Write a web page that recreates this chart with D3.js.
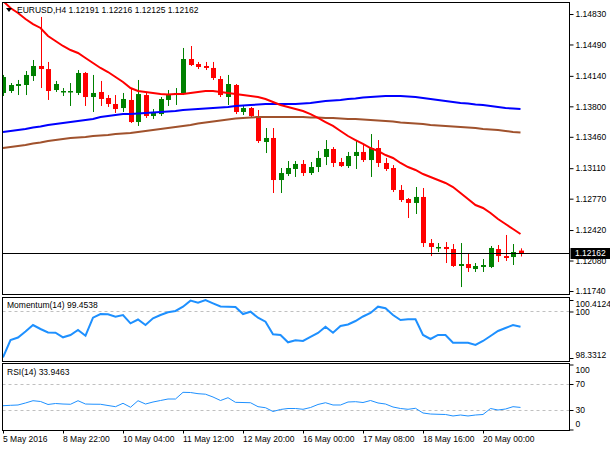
<!DOCTYPE html>
<html>
<head>
<meta charset="utf-8">
<script src="https://cdn.jsdelivr.net/npm/d3@7"></script>
<style>
  body { margin: 0; background: #fff; }
  svg text { font-family: 'Liberation Sans', Arial, sans-serif; font-size: 8.5px; fill: #000; }
</style>
</head>
<body>
<div id="chart"></div>
<script>
const symbol = 'EURUSD,H4'

// H4 bars
const opens = [
  1.13949, 1.13971, 1.14027, 1.14038, 1.14138, 1.14250, 1.14216, 1.13982, 1.13960, 1.13960,
  1.13949, 1.14172, 1.13904, 1.13960, 1.13893, 1.13826, 1.13781, 1.13871, 1.13625, 1.13926,
  1.13692, 1.13714, 1.13871, 1.13926, 1.13937, 1.14328, 1.14272, 1.14250, 1.14228, 1.14105,
  1.13904, 1.14038, 1.13737, 1.13781, 1.13692, 1.13402, 1.13447, 1.12978, 1.13045, 1.13101,
  1.13157, 1.13056, 1.13123, 1.13235, 1.13324, 1.13179, 1.13134, 1.13246, 1.13291, 1.13201,
  1.13335, 1.13168, 1.13112, 1.12867, 1.12766, 1.12722, 1.12789, 1.12275, 1.12220, 1.12231,
  1.12208, 1.12019, 1.12041, 1.11985, 1.12008, 1.12008, 1.12208, 1.12130, 1.12119, 1.12191,
]
const highs = [
  1.14150, 1.14060, 1.14094, 1.14194, 1.14317, 1.14797, 1.14295, 1.14083, 1.14004, 1.14060,
  1.14205, 1.14183, 1.14150, 1.14083, 1.13926, 1.13926, 1.13949, 1.14004, 1.14094, 1.13960,
  1.13770, 1.13904, 1.13982, 1.14004, 1.14451, 1.14473, 1.14295, 1.14295, 1.14295, 1.14138,
  1.14150, 1.14049, 1.13804, 1.13793, 1.13759, 1.13558, 1.13558, 1.13112, 1.13190, 1.13190,
  1.13201, 1.13179, 1.13302, 1.13424, 1.13346, 1.13224, 1.13291, 1.13413, 1.13380, 1.13491,
  1.13424, 1.13224, 1.13145, 1.12922, 1.12777, 1.12900, 1.12889, 1.12320, 1.12275, 1.12286,
  1.12264, 1.12275, 1.12164, 1.12052, 1.12097, 1.12242, 1.12253, 1.12365, 1.12264, 1.12216,
]
const lows = [
  1.13915, 1.13949, 1.13926, 1.13926, 1.14083, 1.14004, 1.13871, 1.13960, 1.13915, 1.13804,
  1.13926, 1.13804, 1.13737, 1.13804, 1.13793, 1.13726, 1.13737, 1.13614, 1.13581, 1.13670,
  1.13659, 1.13692, 1.13804, 1.13815, 1.13926, 1.14250, 1.14216, 1.14205, 1.14094, 1.13904,
  1.13815, 1.13714, 1.13703, 1.13681, 1.13391, 1.13279, 1.12833, 1.12833, 1.13023, 1.13012,
  1.13023, 1.13034, 1.13067, 1.13145, 1.13123, 1.13123, 1.13112, 1.13101, 1.13179, 1.13012,
  1.13123, 1.13079, 1.12844, 1.12733, 1.12554, 1.12599, 1.12231, 1.12130, 1.12175, 1.12052,
  1.12008, 1.11784, 1.11952, 1.11952, 1.11952, 1.11996, 1.12063, 1.12075, 1.12030, 1.12125,
]
const closes = [
  1.14127, 1.14038, 1.14049, 1.14150, 1.14250, 1.14216, 1.13971, 1.14049, 1.13971, 1.13971,
  1.14172, 1.13904, 1.13949, 1.13882, 1.13826, 1.13770, 1.13882, 1.13625, 1.13937, 1.13692,
  1.13737, 1.13882, 1.13926, 1.13949, 1.14328, 1.14261, 1.14239, 1.14228, 1.14116, 1.13926,
  1.14049, 1.13737, 1.13781, 1.13692, 1.13413, 1.13447, 1.12978, 1.13056, 1.13112, 1.13157,
  1.13056, 1.13123, 1.13224, 1.13324, 1.13168, 1.13134, 1.13246, 1.13291, 1.13201, 1.13335,
  1.13168, 1.13101, 1.12867, 1.12755, 1.12722, 1.12789, 1.12275, 1.12231, 1.12231, 1.12208,
  1.12019, 1.12041, 1.11996, 1.12019, 1.12030, 1.12220, 1.12130, 1.12108, 1.12175, 1.12162,
]

// moving averages (red fast, blue, brown slow)
const maFast = [
  1.14975, 1.14897, 1.14841, 1.14774, 1.14718, 1.14674, 1.14585, 1.14529, 1.14473, 1.14428,
  1.14395, 1.14339, 1.14283, 1.14228, 1.14183, 1.14127, 1.14071, 1.14004, 1.13971, 1.13960,
  1.13949, 1.13937, 1.13932, 1.13937, 1.13937, 1.13949, 1.13960, 1.13971, 1.13971, 1.13960,
  1.13949, 1.13937, 1.13926, 1.13915, 1.13904, 1.13882, 1.13848, 1.13815, 1.13793, 1.13770,
  1.13748, 1.13714, 1.13670, 1.13625, 1.13581, 1.13525, 1.13469, 1.13424, 1.13380, 1.13335,
  1.13302, 1.13257, 1.13224, 1.13168, 1.13123, 1.13090, 1.13045, 1.13012, 1.12978, 1.12945,
  1.12900, 1.12833, 1.12766, 1.12699, 1.12666, 1.12610, 1.12543, 1.12487, 1.12432, 1.12376,
]
const maMid = [
  1.13514, 1.13525, 1.13536, 1.13547, 1.13564, 1.13575, 1.13592, 1.13603, 1.13614, 1.13625,
  1.13636, 1.13648, 1.13659, 1.13681, 1.13692, 1.13703, 1.13714, 1.13714, 1.13720, 1.13726,
  1.13731, 1.13737, 1.13742, 1.13748, 1.13759, 1.13765, 1.13770, 1.13776, 1.13781, 1.13787,
  1.13793, 1.13804, 1.13809, 1.13815, 1.13820, 1.13826, 1.13826, 1.13826, 1.13826, 1.13826,
  1.13832, 1.13837, 1.13848, 1.13859, 1.13865, 1.13871, 1.13882, 1.13887, 1.13898, 1.13904,
  1.13910, 1.13915, 1.13915, 1.13915, 1.13910, 1.13904, 1.13893, 1.13882, 1.13871, 1.13859,
  1.13848, 1.13837, 1.13832, 1.13820, 1.13815, 1.13804, 1.13793, 1.13781, 1.13776, 1.13770,
]
const maSlow = [
  1.13335, 1.13346, 1.13357, 1.13369, 1.13385, 1.13397, 1.13413, 1.13424, 1.13436, 1.13447,
  1.13452, 1.13458, 1.13469, 1.13475, 1.13480, 1.13491, 1.13497, 1.13502, 1.13514, 1.13525,
  1.13536, 1.13547, 1.13558, 1.13569, 1.13581, 1.13592, 1.13608, 1.13620, 1.13631, 1.13642,
  1.13653, 1.13664, 1.13670, 1.13675, 1.13681, 1.13681, 1.13681, 1.13681, 1.13681, 1.13681,
  1.13681, 1.13675, 1.13675, 1.13670, 1.13670, 1.13664, 1.13659, 1.13659, 1.13653, 1.13648,
  1.13642, 1.13637, 1.13631, 1.13620, 1.13614, 1.13608, 1.13603, 1.13592, 1.13586, 1.13581,
  1.13575, 1.13569, 1.13564, 1.13558, 1.13547, 1.13541, 1.13536, 1.13525, 1.13514, 1.13508,
]

const momentum = [
  98.350, 98.977, 99.067, 99.282, 99.515, 99.372, 99.246, 99.239, 99.074, 99.157,
  99.336, 99.131, 99.777, 99.910, 99.899, 99.813, 99.874, 99.576, 99.713, 99.515,
  99.756, 99.874, 99.971, 100.018, 100.172, 100.390, 100.316, 100.410, 100.294, 100.179,
  100.172, 100.161, 99.910, 99.993, 99.777, 99.634, 99.182, 99.157, 98.895, 98.966,
  98.941, 99.085, 99.228, 99.454, 99.239, 99.480, 99.533, 99.659, 99.820, 99.946,
  100.172, 100.115, 99.874, 99.695, 99.720, 99.720, 99.157, 99.013, 99.157, 99.157,
  98.880, 98.880, 98.880, 98.798, 98.941, 99.121, 99.300, 99.408, 99.515, 99.4538,
]
const rsi = [
  36.6, 37.2, 37.7, 40.8, 44.3, 43.1, 38.5, 40.0, 39.2, 38.8,
  44.3, 39.2, 38.9, 38.8, 36.9, 35.1, 40.3, 34.2, 44.3, 39.2,
  42.3, 44.6, 46.9, 46.9, 57.2, 56.9, 55.1, 54.3, 50.0, 44.6,
  48.9, 41.8, 41.5, 41.2, 35.1, 33.5, 27.7, 30.8, 32.3, 32.3,
  31.1, 33.8, 38.5, 41.2, 37.7, 37.7, 42.3, 42.8, 41.5, 44.6,
  40.8, 39.2, 34.6, 32.3, 31.1, 32.6, 25.4, 23.8, 23.4, 23.1,
  20.8, 22.3, 20.8, 22.3, 23.1, 32.3, 30.0, 31.5, 35.1, 33.9463,
]

const timeLabels = ['5 May 2016', '8 May 22:00', '10 May 04:00', '11 May 12:00', '12 May 20:00',
  '16 May 00:00', '17 May 08:00', '18 May 16:00', '20 May 00:00']
const labelBars = [0, 8, 16, 24, 32, 40, 48, 56, 64]
const priceTicks = [1.14830, 1.14490, 1.14140, 1.13800, 1.13460, 1.13110, 1.12770, 1.12420, 1.12080, 1.11740]
const momentumTicks = [100.4124, 100, 98.3312]
const momentumLevels = [100]
const rsiTicks = [100, 70, 30, 0]
const rsiLevels = [70, 30]

const WIDTH = 610
const HEIGHT = 450
const LEFT = 2.5
const RIGHT = 569.5
const BULL = '#008000'
const BEAR = '#ff0000'
const LINE_BLUE = '#1e90ff'

const panels = {
  main: { top: 2.5, bottom: 294.5 },
  mom: { top: 297.5, bottom: 361.5 },
  rsi: { top: 363.5, bottom: 430.5 },
}

const n = closes.length
const bars = closes.map((c, i) => ({ i, open: opens[i], high: highs[i], low: lows[i], close: c }))

const x = d3.scaleLinear().domain([0, n - 1]).range([3, 520.5])
const yPrice = d3.scaleLinear().domain([1.11740, 1.14830]).range([291, 14])
const yMom = d3.scaleLinear().domain([98.3312, 100.4124]).range([358, 300])
const yRsi = d3.scaleLinear().domain([0, 100]).range([429.5, 364.5])

const svg = d3
  .select('#chart')
  .append('svg')
  .attr('width', WIDTH)
  .attr('height', HEIGHT)

svg.append('rect').attr('width', WIDTH).attr('height', HEIGHT).attr('fill', '#fff')

const defs = svg.append('defs')
Object.entries(panels).forEach(([key, p]) => {
  defs
    .append('clipPath')
    .attr('id', `clip-${key}`)
    .append('rect')
    .attr('x', LEFT)
    .attr('y', p.top)
    .attr('width', RIGHT - LEFT)
    .attr('height', p.bottom - p.top)
})

// level lines
const dashed = (g, scale, levels) => {
  g.selectAll('.level')
    .data(levels)
    .enter()
    .append('line')
    .attr('class', 'level')
    .attr('x1', LEFT)
    .attr('x2', RIGHT)
    .attr('y1', d => Math.round(scale(d)) + 0.5)
    .attr('y2', d => Math.round(scale(d)) + 0.5)
    .attr('stroke', '#c0c0c0')
    .attr('stroke-dasharray', '3,3')
}

// main panel
const main = svg.append('g').attr('clip-path', 'url(#clip-main)')

const candle = main
  .selectAll('.candle')
  .data(bars)
  .enter()
  .append('g')
  .attr('class', 'candle')

candle
  .append('line')
  .attr('x1', d => Math.round(x(d.i)) + 0.5)
  .attr('x2', d => Math.round(x(d.i)) + 0.5)
  .attr('y1', d => yPrice(d.high))
  .attr('y2', d => yPrice(d.low))
  .attr('stroke', d => (d.close >= d.open ? BULL : BEAR))
  .attr('stroke-width', 1)

candle
  .append('rect')
  .attr('x', d => Math.round(x(d.i)) - 2)
  .attr('width', 5)
  .attr('y', d => yPrice(Math.max(d.open, d.close)))
  .attr('height', d => Math.max(1.5, Math.abs(yPrice(d.open) - yPrice(d.close))))
  .attr('fill', d => (d.close >= d.open ? BULL : BEAR))

const maLine = d3
  .line()
  .x((d, i) => x(i))
  .y(d => yPrice(d))

const averages = [
  { values: maSlow, color: '#a0522d' },
  { values: maMid, color: '#0000ff' },
  { values: maFast, color: '#ff0000' },
]

main
  .selectAll('.ma')
  .data(averages)
  .enter()
  .append('path')
  .attr('class', 'ma')
  .attr('d', d => maLine(d.values))
  .attr('fill', 'none')
  .attr('stroke', d => d.color)
  .attr('stroke-width', 2)

// current price line
const lastY = Math.round(yPrice(closes[n - 1])) + 0.5
main
  .append('line')
  .attr('x1', LEFT)
  .attr('x2', RIGHT)
  .attr('y1', lastY)
  .attr('y2', lastY)
  .attr('stroke', '#000')

// momentum panel
const mom = svg.append('g').attr('clip-path', 'url(#clip-mom)')
dashed(mom, yMom, momentumLevels)
mom
  .append('path')
  .attr('d', d3.line().x((d, i) => x(i)).y(d => yMom(d))(momentum))
  .attr('fill', 'none')
  .attr('stroke', LINE_BLUE)
  .attr('stroke-width', 2)

// rsi panel
const rsiG = svg.append('g').attr('clip-path', 'url(#clip-rsi)')
dashed(rsiG, yRsi, rsiLevels)
rsiG
  .append('path')
  .attr('d', d3.line().x((d, i) => x(i)).y(d => yRsi(d))(rsi))
  .attr('fill', 'none')
  .attr('stroke', LINE_BLUE)
  .attr('stroke-width', 1)

// frames
Object.values(panels).forEach(p => {
  svg
    .append('rect')
    .attr('x', LEFT)
    .attr('y', p.top)
    .attr('width', RIGHT - LEFT)
    .attr('height', p.bottom - p.top)
    .attr('fill', 'none')
    .attr('stroke', '#000')
})

// right axes
const rightAxis = (scale, ticks, format, shifts) => {
  const g = svg
    .append('g')
    .attr('transform', `translate(${RIGHT},0)`)
    .call(
      d3.axisRight(scale)
        .tickValues(ticks)
        .tickFormat(format)
        .tickSize(4)
        .tickPadding(2),
    )
  g.attr('font-size', null).attr('font-family', null)
  g.select('.domain').remove()
  g.selectAll('.tick line').attr('stroke', '#000')
  g.selectAll('.tick text').attr('dy', d => `${0.32 + (shifts[d] || 0) / 8.5}em`)
  return g
}

rightAxis(yPrice, priceTicks, d3.format('.5f'), {})
rightAxis(yMom, momentumTicks, d => String(d), { 100.4124: 3.5, 98.3312: -3.5 })
rightAxis(yRsi, rsiTicks, d => String(d), { 100: 5.5, 0: -5.5 })

// last price tag
svg
  .append('rect')
  .attr('x', RIGHT + 1)
  .attr('y', lastY - 5.5)
  .attr('width', WIDTH - RIGHT - 1)
  .attr('height', 11)
  .attr('fill', '#000')

svg
  .append('text')
  .attr('x', RIGHT + 5.5)
  .attr('y', lastY)
  .attr('dy', '0.34em')
  .style('fill', '#fff')
  .text(d3.format('.5f')(closes[n - 1]))

// time axis
const xAxis = svg
  .append('g')
  .attr('transform', `translate(0,${panels.rsi.bottom})`)
  .call(
    d3.axisBottom(x)
      .tickValues(labelBars)
      .tickFormat((d, i) => timeLabels[i])
      .tickSize(3)
      .tickPadding(2),
  )
xAxis.attr('font-size', null).attr('font-family', null)
xAxis.select('.domain').remove()
xAxis.selectAll('.tick line').attr('stroke', '#000')
xAxis.selectAll('.tick text').attr('text-anchor', 'start').attr('x', -0.5)

// titles
svg
  .append('path')
  .attr('d', 'M6,8L12,8L9,12Z')
  .attr('fill', '#000')

const last = n - 1
svg
  .append('text')
  .attr('x', 17)
  .attr('y', 13)
  .text(`${symbol}  ${[opens[last], highs[last], lows[last], closes[last]].map(d3.format('.5f')).join(' ')}`)

svg
  .append('text')
  .attr('x', 7)
  .attr('y', 308)
  .text(`Momentum(14) ${momentum[last]}`)

svg
  .append('text')
  .attr('x', 7)
  .attr('y', 375)
  .text(`RSI(14) ${rsi[last]}`)
</script>
</body>
</html>
